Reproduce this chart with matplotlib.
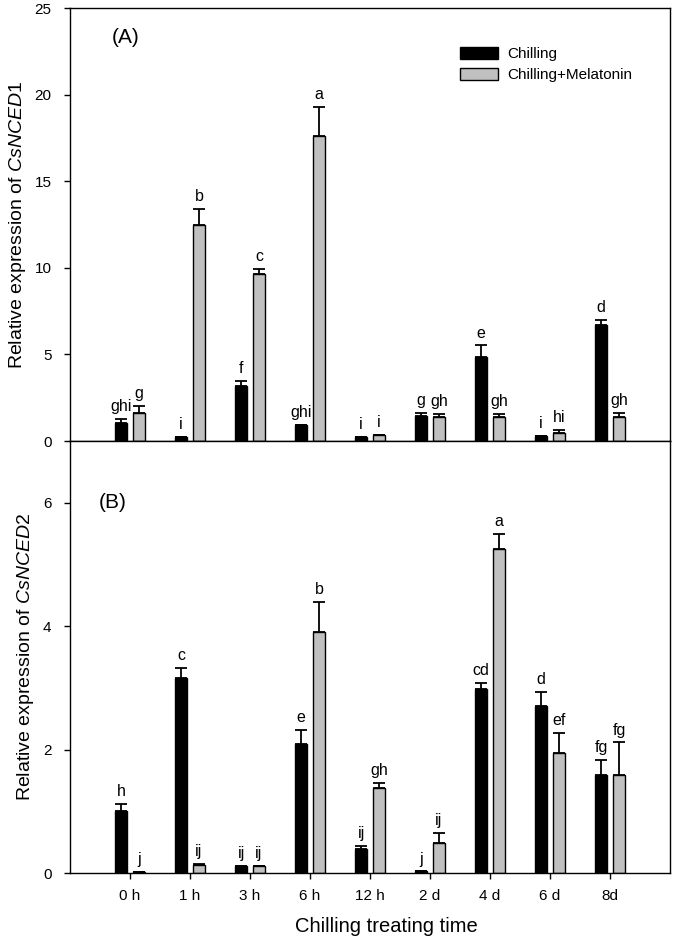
import matplotlib
matplotlib.use("Agg")
import matplotlib.pyplot as plt
import numpy as np

plt.rcParams["font.family"] = ["Liberation Sans", "DejaVu Sans"]
plt.rcParams["mathtext.fontset"] = "custom"
plt.rcParams["mathtext.it"] = "Liberation Sans:italic"
plt.rcParams["mathtext.rm"] = "Liberation Sans"

# time points on the x axis
times = ["0 h", "1 h", "3 h", "6 h", "12 h", "2 d", "4 d", "6 d", "8d"]

# panel A: CsNCED1
a_chill = [1.02, 0.25, 3.19, 0.95, 0.25, 1.47, 4.88, 0.31, 6.70]
a_chill_err = [0.27, 0.0, 0.29, 0.0, 0.0, 0.13, 0.64, 0.0, 0.31]
a_mel = [1.60, 12.47, 9.66, 17.60, 0.33, 1.41, 1.41, 0.48, 1.41]
a_mel_err = [0.43, 0.95, 0.29, 1.67, 0.0, 0.15, 0.14, 0.16, 0.19]
a_chill_lbl = ["ghi", "i", "f", "ghi", "i", "g", "e", "i", "d"]
a_mel_lbl = ["g", "b", "c", "a", "i", "gh", "gh", "hi", "gh"]

# panel B: CsNCED2
b_chill = [1.01, 3.16, 0.12, 2.09, 0.40, 0.03, 2.98, 2.71, 1.59]
b_chill_err = [0.12, 0.17, 0.0, 0.23, 0.04, 0.0, 0.10, 0.23, 0.25]
b_mel = [0.02, 0.13, 0.12, 3.91, 1.38, 0.49, 5.25, 1.95, 1.59]
b_mel_err = [0.0, 0.02, 0.0, 0.49, 0.09, 0.17, 0.24, 0.33, 0.53]
b_chill_lbl = ["h", "c", "ij", "e", "ij", "j", "cd", "d", "fg"]
b_mel_lbl = ["j", "ij", "ij", "b", "gh", "ij", "a", "ef", "fg"]

W = 0.21
OFF = 0.148
x = np.arange(1, len(times) + 1)

fig = plt.figure(figsize=(6.75, 9.42), dpi=100)
axA = fig.add_axes([0.1037, 0.5318, 0.889, 0.4597])
axB = fig.add_axes([0.1037, 0.0729, 0.889, 0.4589])


def draw(ax, chill, chill_err, mel, mel_err, lbl_c, lbl_m):
    ax.bar(x - OFF, chill, W, color="black", edgecolor="black", lw=1,
           label="Chilling", zorder=2)
    ax.bar(x + OFF, mel, W, color="#c0c0c0", edgecolor="black", lw=1,
           label="Chilling+Melatonin", zorder=2)
    z = np.zeros(len(x))
    ax.errorbar(x - OFF, chill, yerr=[z, chill_err], fmt="none", ecolor="black",
                elinewidth=1.3, capsize=4.6, capthick=1.3, zorder=3)
    ax.errorbar(x + OFF, mel, yerr=[z, mel_err], fmt="none", ecolor="black",
                elinewidth=1.3, capsize=4.6, capthick=1.3, zorder=3)
    for i in range(len(x)):
        ax.annotate(lbl_c[i], (x[i] - OFF, chill[i] + chill_err[i]),
                    xytext=(0, 3.5), textcoords="offset points",
                    ha="center", va="bottom", fontsize=11.5)
        ax.annotate(lbl_m[i], (x[i] + OFF, mel[i] + mel_err[i]),
                    xytext=(0, 3.5), textcoords="offset points",
                    ha="center", va="bottom", fontsize=11.5)
    ax.set_xlim(0, 10)
    ax.tick_params(direction="out", length=4.3, width=1, labelsize=11, pad=9)
    for s in ax.spines.values():
        s.set_linewidth(1)


draw(axA, a_chill, a_chill_err, a_mel, a_mel_err, a_chill_lbl, a_mel_lbl)
axA.set_ylim(0, 25)
axA.set_yticks([0, 5, 10, 15, 20, 25])
axA.set_xticks([])
axA.set_ylabel("Relative expression of $\\mathit{CsNCED1}$", fontsize=14, labelpad=5)
axA.text(0.07, 0.919, "(A)", transform=axA.transAxes, fontsize=15, va="baseline")
axA.legend(loc="upper left", bbox_to_anchor=(0.64, 0.925), frameon=False,
           fontsize=11, handlelength=2.45, handleheight=0.85,
           handletextpad=0.6, labelspacing=0.45, borderaxespad=0)

draw(axB, b_chill, b_chill_err, b_mel, b_mel_err, b_chill_lbl, b_mel_lbl)
axB.set_ylim(0, 7)
axB.set_yticks([0, 2, 4, 6])
axB.set_xticks(x)
axB.set_xticklabels(times)
axB.tick_params(axis="x", pad=7)
axB.set_ylabel("Relative expression of $\\mathit{CsNCED2}$", fontsize=14, labelpad=5)
axB.set_xlabel("Chilling treating time", fontsize=14.5)
axB.xaxis.set_label_coords(0.527, -0.102)
axB.text(0.048, 0.845, "(B)", transform=axB.transAxes, fontsize=15, va="baseline")

fig.savefig("out.png", dpi=100)
